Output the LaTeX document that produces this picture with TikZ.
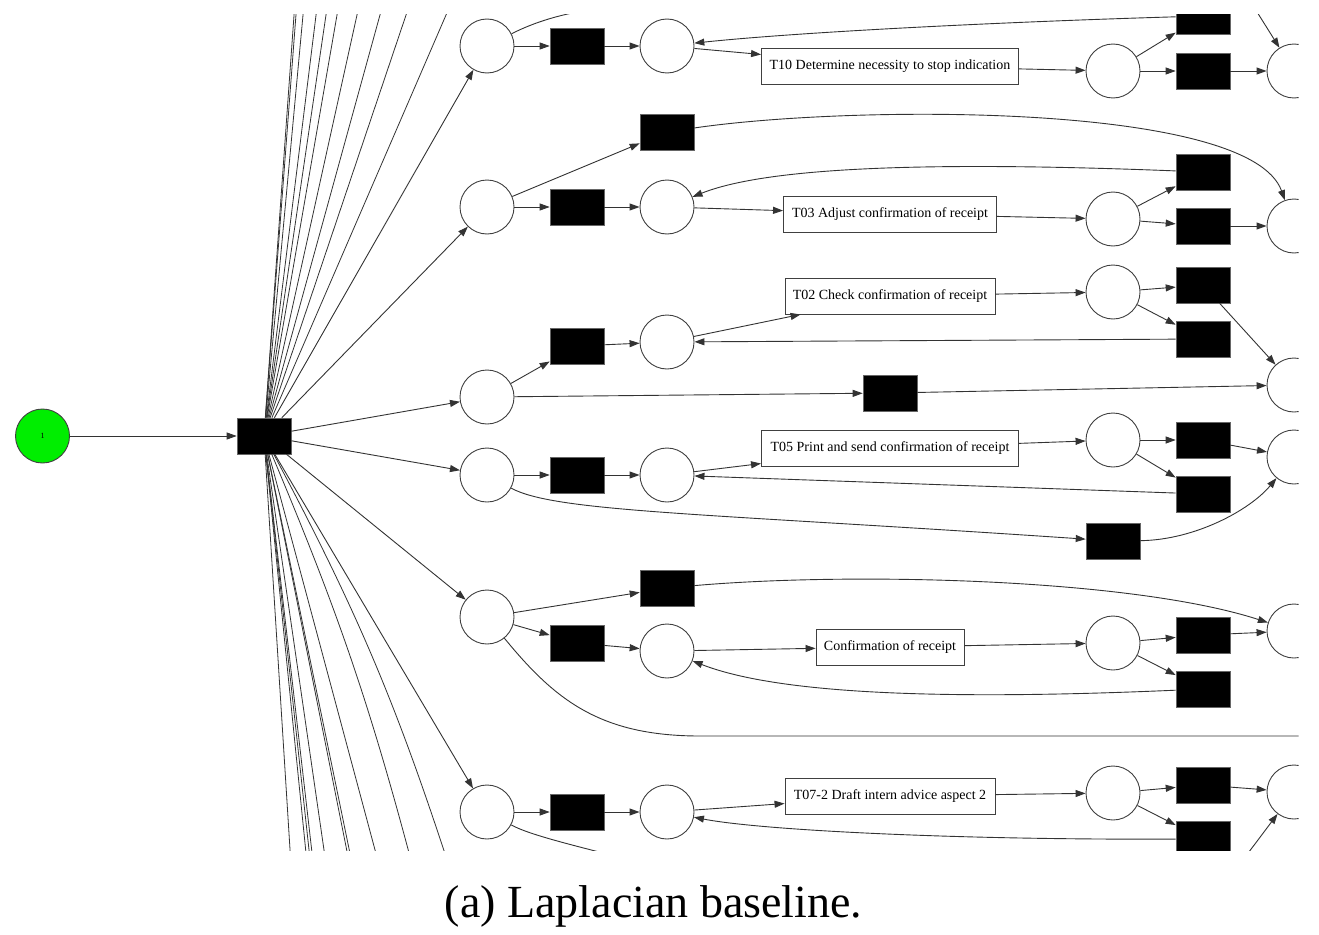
\documentclass[tikz,border=0pt]{standalone}
\usepackage{fontspec}
\setmainfont{Liberation Serif}
\usetikzlibrary{arrows.meta}
\definecolor{pgreen}{RGB}{0,238,0}
\begin{document}
\begin{tikzpicture}[x=1pt,y=-1pt,
  place/.style={circle,draw=black!75,line width=0.9pt,fill=white,minimum size=54pt,inner sep=0pt},
  trans/.style={rectangle,draw=black!60,line width=0.6pt,fill=black,minimum width=54pt,minimum height=36pt,inner sep=0pt},
  task/.style={rectangle,draw=black!75,line width=0.9pt,fill=white,minimum height=36pt,inner sep=0pt,font=\fontsize{14}{16}\selectfont},
  arc/.style={draw=black!80,line width=0.9pt,-{Triangle[length=10pt,width=7pt]}},
  fan/.style={draw=black!80,line width=0.8pt},
  plain/.style={draw=black!80,line width=0.9pt},
]
\useasboundingbox (0,0) rectangle (1319,934);
\begin{scope}
\clip (0,15) rectangle (1298.5,850.5);
% start
\node[place,fill=pgreen,font=\fontsize{8}{9}\selectfont] (g1) at (42.5,436) {1};
\node[trans] (hub) at (264,436) {};
% row A
\node[place] (pA1) at (487,46) {};
\node[trans] (tA1) at (577,46) {};
\node[place] (pA2) at (667,46) {};
\node[task,minimum width=257pt] (bT10) at (890,66) {T10 Determine necessity to stop indication};
\node[place] (pA3) at (1113,71) {};
\node[trans] (tA2) at (1203,16) {};
\node[trans] (tA3) at (1203,71) {};
\node[place] (pA4) at (1294,71) {};
% row B
\node[place] (pB1) at (487,207) {};
\node[trans] (tB1) at (577,207) {};
\node[place] (pB2) at (667,207) {};
\node[trans] (tB0) at (667,132) {};
\node[task,minimum width=213pt] (bT03) at (890,214) {T03 Adjust confirmation of receipt};
\node[place] (pB3) at (1113,219) {};
\node[trans] (tB2) at (1203,172) {};
\node[trans] (tB3) at (1203,226) {};
\node[place] (pB4) at (1294,226) {};
% row C
\node[place] (pC1) at (487,397) {};
\node[trans] (tC1) at (577,346) {};
\node[place] (pC2) at (667,342) {};
\node[task,minimum width=210pt] (bT02) at (890,296) {T02 Check confirmation of receipt};
\node[place] (pC3) at (1113,292) {};
\node[trans] (tC2) at (1203,285) {};
\node[trans] (tC3) at (1203,339) {};
\node[trans] (tC4) at (890,393) {};
\node[place] (pC4) at (1294,385) {};
% row D
\node[place] (pD1) at (487,475) {};
\node[trans] (tD1) at (577,475) {};
\node[place] (pD2) at (667,475) {};
\node[task,minimum width=257pt] (bT05) at (890,448) {T05 Print and send confirmation of receipt};
\node[place] (pD3) at (1113,440) {};
\node[trans] (tD2) at (1203,440) {};
\node[trans] (tD3) at (1203,494) {};
\node[place] (pD4) at (1294,457) {};
\node[trans] (tD4) at (1113,541) {};
% row E
\node[place] (pE1) at (487,617) {};
\node[trans] (tE0) at (667,588) {};
\node[trans] (tE1) at (577,643) {};
\node[place] (pE2) at (667,651) {};
\node[task,minimum width=148pt] (bConf) at (890,647) {Confirmation of receipt};
\node[place] (pE3) at (1113,643) {};
\node[trans] (tE2) at (1203,635) {};
\node[trans] (tE3) at (1203,689) {};
\node[place] (pE4) at (1294,631) {};
% row F
\node[place] (pF1) at (487,812) {};
\node[trans] (tF1) at (577,812) {};
\node[place] (pF2) at (667,812) {};
\node[task,minimum width=210pt] (bT07) at (890,796) {T07-2 Draft intern advice aspect 2};
\node[place] (pF3) at (1113,793) {};
\node[trans] (tF2) at (1203,785) {};
\node[trans] (tF3) at (1203,839) {};
\node[place] (pF4) at (1294,792) {};
% off-picture ends
\coordinate (cA) at (600,8);
\coordinate (cA2) at (1249.5,0);
\coordinate (cE) at (1330,736);
\coordinate (cF) at (680,872);
\coordinate (cF2) at (1238,866.5);
\foreach \i/\x in {1/295.1,2/297.1,3/304.4,4/317.9,5/328.2,6/339.6,7/360.3,8/384.1,9/411.1,10/452.5}
  {\coordinate (ft\i) at (\x,0);}
\foreach \i/\x in {1/291.3,2/307.7,3/311.2,4/314,5/326.9,6/350.7,7/353.4,8/380.4,9/413.6,10/450.3}
  {\coordinate (fb\i) at (\x,870);}
% fan
\foreach \i in {1,...,10} {\draw[fan] (hub) -- (ft\i);}
\foreach \i in {1,...,8} {\draw[fan] (hub) -- (fb\i);}
\draw[fan] (hub) to[bend left=4] (fb9);
\draw[fan] (hub) to[bend left=5] (fb10);
% edges
\draw[arc] (g1) -- (hub);
\foreach \p in {pA1,pB1,pC1,pD1,pE1,pF1} {\draw[arc] (hub) -- (\p);}
% row A
\draw[arc] (pA1) -- (tA1);
\draw[arc] (tA1) -- (pA2);
\draw[arc] (pA2) -- (bT10);
\draw[arc] (tA2) .. controls (1000,22) and (800,32) .. (pA2);
\draw[arc] (bT10) -- (pA3);
\draw[arc] (pA3) -- (tA2);
\draw[arc] (pA3) -- (tA3);
\draw[arc] (tA3) -- (pA4);
\draw[plain] (pA1) .. controls (535,22) and (560,14) .. (cA);
\draw[arc] (cA2) -- (pA4);
% row B
\draw[arc] (pB1) -- (tB1);
\draw[arc] (tB1) -- (pB2);
\draw[arc] (pB1) -- (tB0);
\draw[arc] (tB0) .. controls (850,105) and (1250,102) .. (pB4);
\draw[arc] (pB2) -- (bT03);
\draw[arc] (tB2) .. controls (900,160) and (760,170) .. (pB2);
\draw[arc] (bT03) -- (pB3);
\draw[arc] (pB3) -- (tB2);
\draw[arc] (pB3) -- (tB3);
\draw[arc] (tB3) -- (pB4);
% row C
\draw[arc] (pC1) -- (tC1);
\draw[arc] (tC1) -- (pC2);
\draw[arc] (pC2) -- (bT02);
\draw[arc] (bT02) -- (pC3);
\draw[arc] (pC3) -- (tC2);
\draw[arc] (pC3) -- (tC3);
\draw[arc] (tC3) -- (pC2);
\draw[arc] (tC2) -- (pC4);
\draw[arc] (pC1) -- (tC4);
\draw[arc] (tC4) -- (pC4);
% row D
\draw[arc] (pD1) -- (tD1);
\draw[arc] (tD1) -- (pD2);
\draw[arc] (pD2) -- (bT05);
\draw[arc] (bT05) -- (pD3);
\draw[arc] (pD3) -- (tD2);
\draw[arc] (pD3) -- (tD3);
\draw[arc] (tD2) -- (pD4);
\draw[arc] (tD3) -- (pD2);
\draw[arc] (pD1) .. controls (555,512) and (700,513) .. (tD4);
\draw[arc] (tD4) .. controls (1195,540) and (1250,510) .. (pD4);
% row E
\draw[arc] (pE1) -- (tE0);
\draw[arc] (pE1) -- (tE1);
\draw[arc] (tE1) -- (pE2);
\draw[arc] (pE2) -- (bConf);
\draw[arc] (bConf) -- (pE3);
\draw[arc] (pE3) -- (tE2);
\draw[arc] (pE3) -- (tE3);
\draw[arc] (tE2) -- (pE4);
\draw[arc] (tE3) .. controls (950,700) and (780,695) .. (pE2);
\draw[arc] (tE0) .. controls (850,572) and (1130,578) .. (pE4);
\draw[plain] (pE1) .. controls (555,700) and (600,736) .. (700,736) -- (cE);
% row F
\draw[arc] (pF1) -- (tF1);
\draw[arc] (tF1) -- (pF2);
\draw[arc] (pF2) -- (bT07);
\draw[arc] (bT07) -- (pF3);
\draw[arc] (pF3) -- (tF2);
\draw[arc] (pF3) -- (tF3);
\draw[arc] (tF2) -- (pF4);
\draw[arc] (tF3) .. controls (950,840) and (760,830) .. (pF2);
\draw[plain] (pF1) .. controls (530,835) and (570,845) .. (cF);
\draw[arc] (cF2) -- (pF4);
\end{scope}
\node[anchor=base,font=\fontsize{46}{50}\selectfont,inner sep=0pt] (cap) at (653.5,917) {(a) Laplacian baseline.};
\end{tikzpicture}
\end{document}
